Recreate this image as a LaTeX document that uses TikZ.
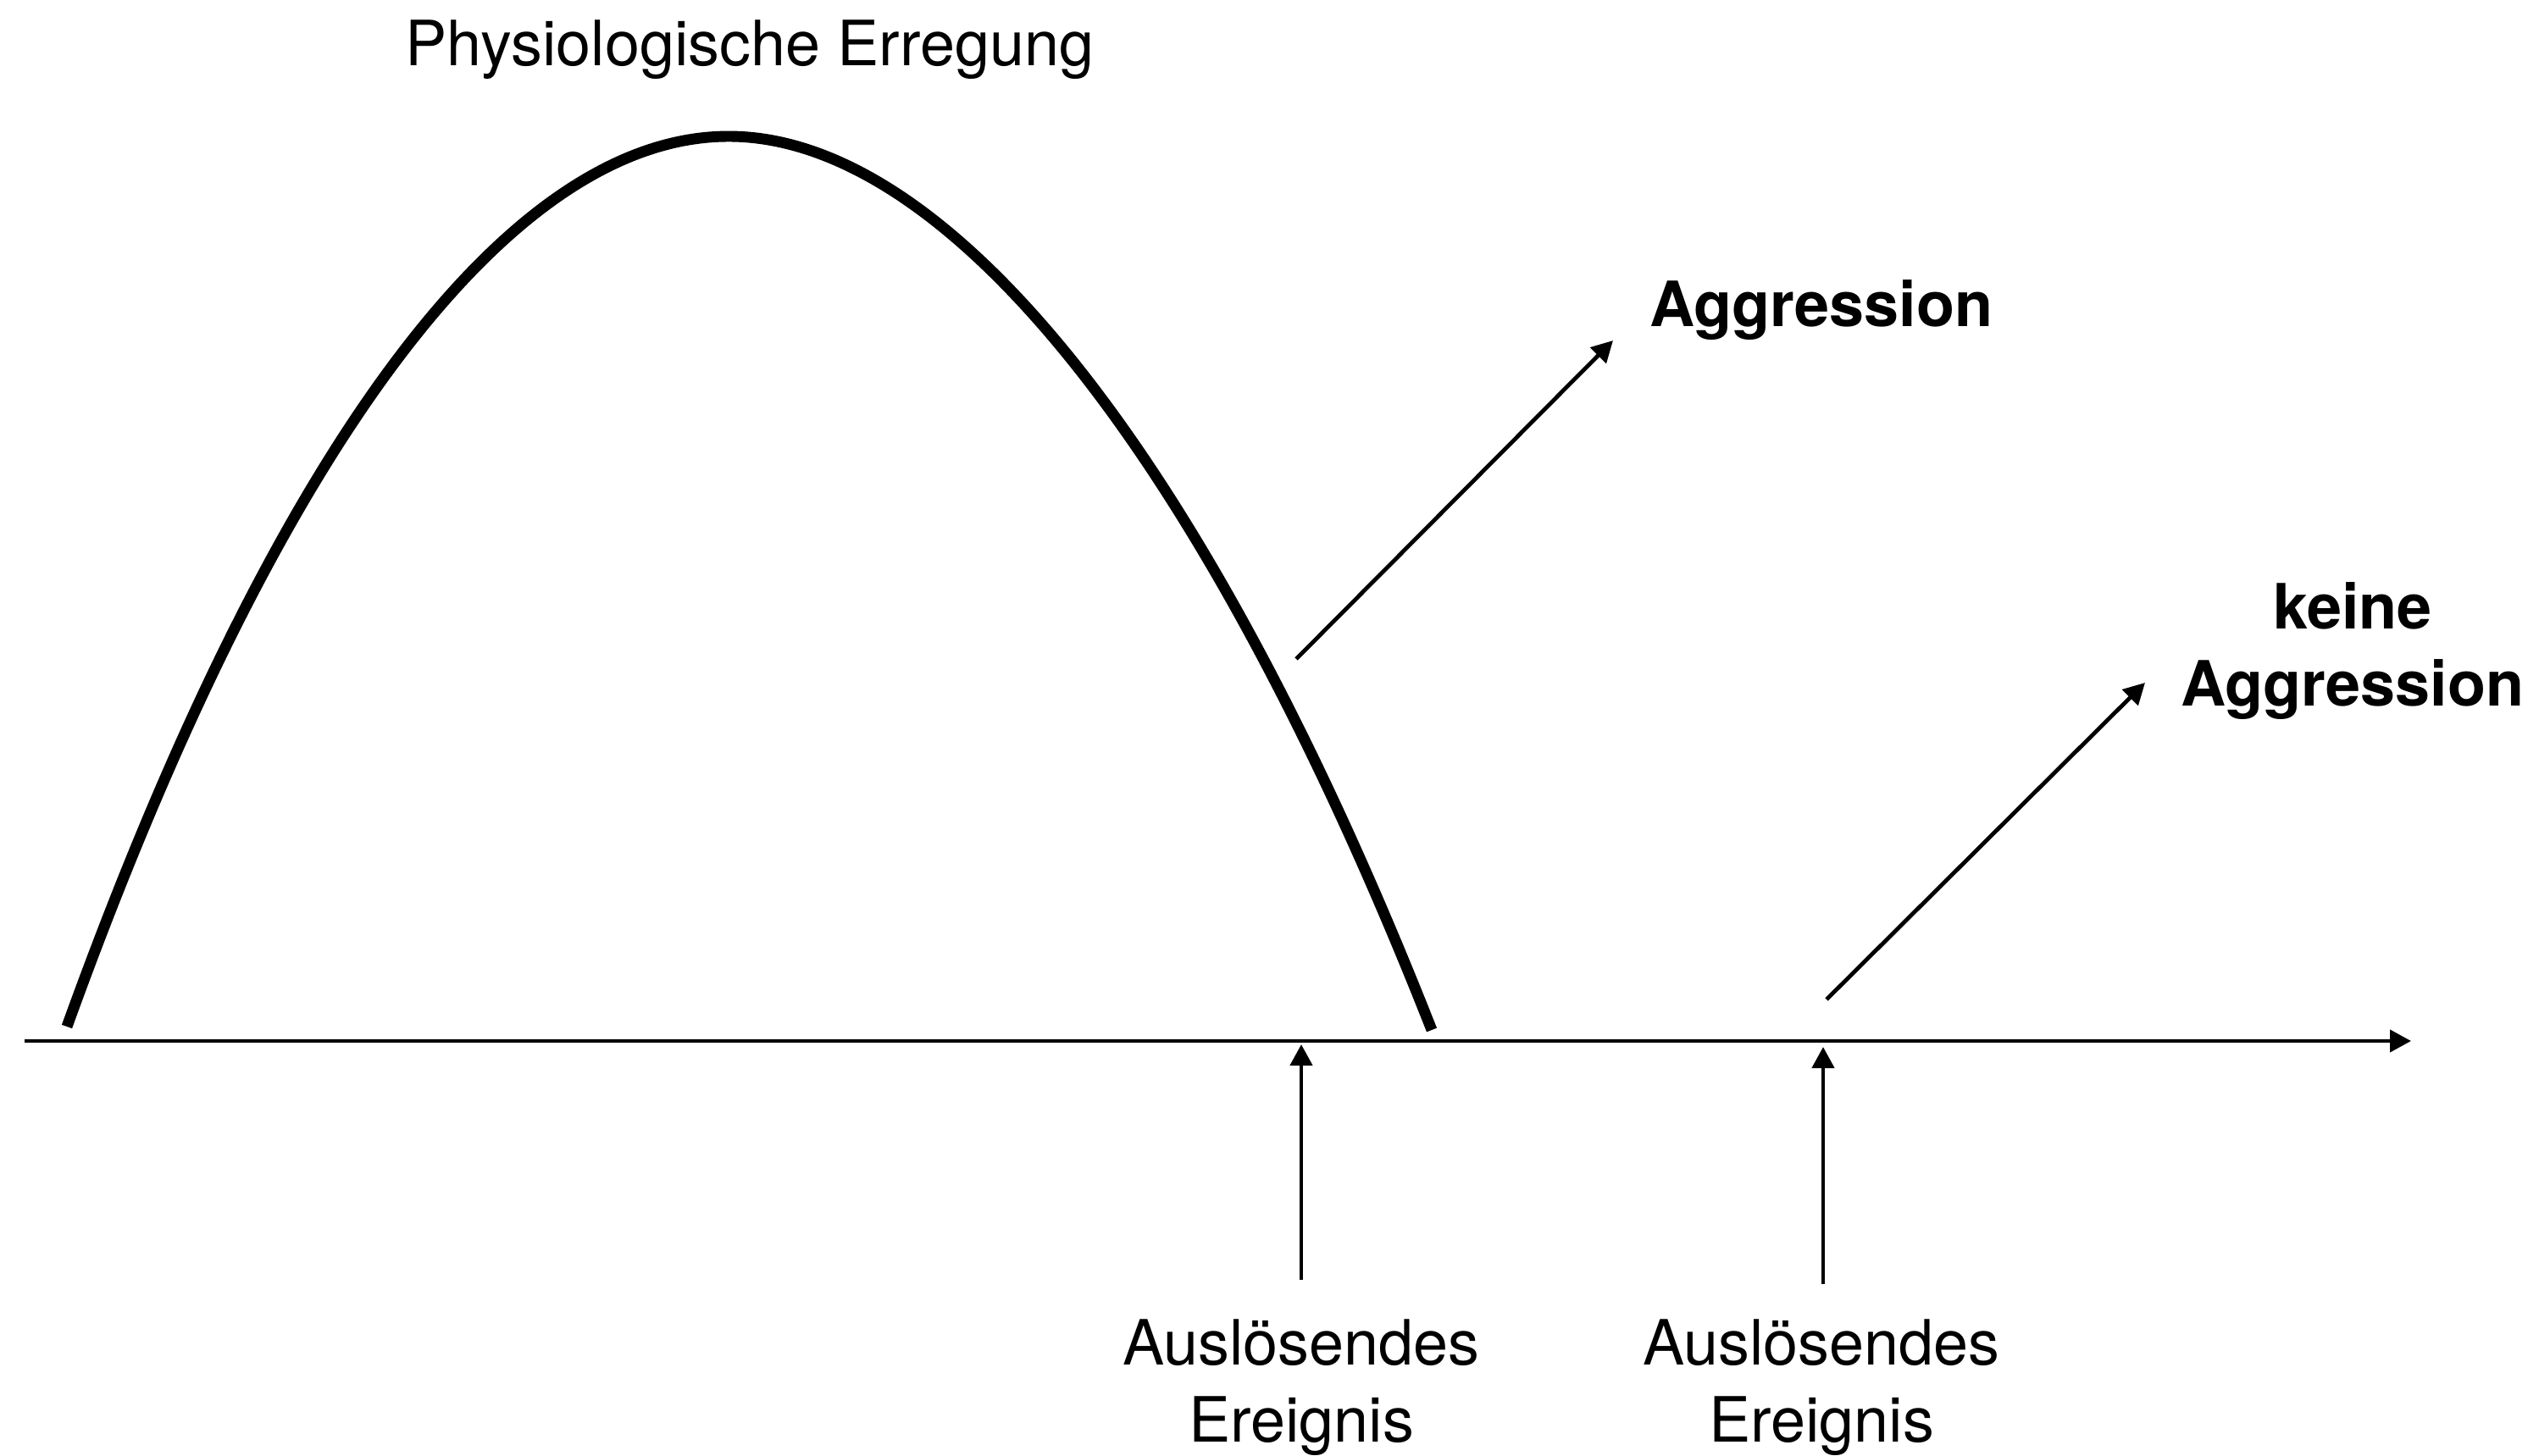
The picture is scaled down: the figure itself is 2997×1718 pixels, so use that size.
\documentclass[tikz,border=0pt]{standalone}
\usepackage{fontspec}
\setmainfont{TeX Gyre Heros}
\usetikzlibrary{arrows.meta}
\tikzset{
  thinline/.style={line width=1.15pt, -{Triangle[length=6pt,width=6.2pt]}},
  curveline/.style={line width=3.1pt, line cap=butt},
  lbl/.style={inner sep=0pt, align=center, font=\fontsize{17.7}{21.8}\selectfont},
  boldlbl/.style={lbl, font=\fontsize{17.7}{21.8}\selectfont\bfseries}
}
\begin{document}
\begin{tikzpicture}[x=0.24pt,y=-0.24pt]
\useasboundingbox (0,0) rectangle (2997,1718);
% axis
\coordinate (ax0) at (29,1229);
\coordinate (ax1) at (2846,1229);
\draw[thinline] (ax0) -- (ax1);
% arousal curve
\coordinate (c0) at (79,1212);
\coordinate (cp) at (860,161);
\coordinate (c1) at (1690,1216);
\draw[curveline] (c0) .. controls (337,497) and (612,161) .. (cp)
                      .. controls (1115,161) and (1418,525) .. (c1);
% labels
\node[lbl, anchor=base] (title) at (885,77) {Physiologische Erregung};
\node[boldlbl, anchor=base] (agg) at (2150,385) {Aggression};
\node[boldlbl, anchor=base] (nagg) at (2777,833) {keine\\Aggression};
\node[lbl, anchor=base] (ev1) at (1536,1702) {Auslösendes\\Ereignis};
\node[lbl, anchor=base] (ev2) at (2150,1702) {Auslösendes\\Ereignis};
% arrows
\coordinate (a1s) at (1530,778);
\coordinate (a1e) at (1904,402);
\coordinate (a2s) at (2156,1180);
\coordinate (a2e) at (2532,806);
\coordinate (e1s) at (1536,1511);
\coordinate (e1e) at (1536,1233);
\coordinate (e2s) at (2152,1516);
\coordinate (e2e) at (2152,1236);
\draw[thinline] (a1s) -- (a1e);
\draw[thinline] (a2s) -- (a2e);
\draw[thinline] (e1s) -- (e1e);
\draw[thinline] (e2s) -- (e2e);
\end{tikzpicture}
\end{document}
